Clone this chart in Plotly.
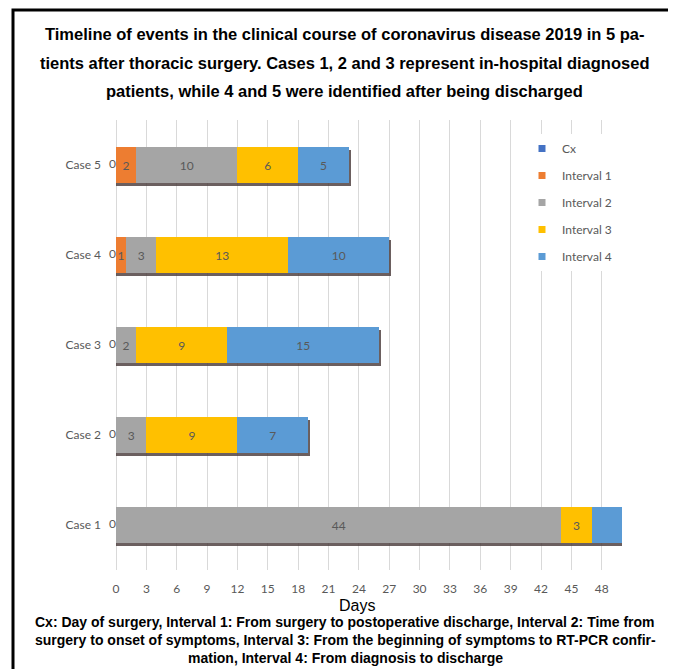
import plotly.graph_objects as go

cases = ["Case 1", "Case 2", "Case 3", "Case 4", "Case 5"]
cx = [0, 0, 0, 0, 0]
interval1 = [0, 0, 0, 1, 2]
interval2 = [44, 3, 2, 3, 10]
interval3 = [3, 9, 9, 13, 6]
interval4 = [3, 7, 15, 10, 5]
# whether the value label is printed on the bar segment
show_int4_label = [False, True, True, True, True]

series_names = ["Cx", "Interval 1", "Interval 2", "Interval 3", "Interval 4"]
colors = ["#4472C4", "#ED7D31", "#A5A5A5", "#FFC000", "#5B9BD5"]

title_lines = [
    "Timeline of events in the clinical course of coronavirus disease 2019 in 5 pa-",
    "tients after thoracic surgery. Cases 1, 2 and 3 represent in-hospital diagnosed",
    "patients, while 4 and 5 were identified after being discharged",
]
note_lines = [
    "Cx: Day of surgery, Interval 1: From surgery to postoperative discharge, Interval 2: Time from",
    "surgery to onset of symptoms, Interval 3: From the beginning of symptoms to RT-PCR confir-",
    "mation, Interval 4: From diagnosis to discharge",
]

OFF = 8  # page body margin
W, H = 676 - OFF, 669 - OFF
PL, PR, PT, PB = 116, 622, 120, 570  # plot area in page pixels
L, R, T, B = PL - OFF, 676 - PR, PT - OFF, 669 - PB
pw, ph = PR - PL, PB - PT


def px_x(p):
    return (p - PL) / pw


def px_y(p):
    return (PB - p) / ph


label_font = dict(family="Lato, Carlito, sans-serif", size=12, color="#595959")

fig = go.Figure()

# bar shadows (on the primary y axis, drawn beneath)
totals = [a + b + c + d + e for a, b, c, d, e in zip(cx, interval1, interval2, interval3, interval4)]
fig.add_trace(go.Bar(
    y=cases, x=[t + 0.2 for t in totals], base=0, orientation="h",
    width=0.4, offset=-0.23, marker=dict(color="rgba(70,55,55,0.8)", line=dict(width=0)),
    showlegend=False, hoverinfo="skip", yaxis="y", xaxis="x",
))

data = [cx, interval1, interval2, interval3, interval4]
for i, (name, vals, col) in enumerate(zip(series_names, data, colors)):
    if i == 0:
        texts = ["" for _ in vals]
    elif i == 4:
        texts = [str(v) if s else "" for v, s in zip(vals, show_int4_label)]
    else:
        texts = [str(v) if v else "" for v in vals]
    fig.add_trace(go.Bar(
        y=cases, x=vals, name=name, orientation="h", width=0.4,
        marker=dict(color=col, line=dict(width=0)),
        text=texts, textposition="inside", insidetextanchor="middle",
        constraintext="none", textfont=label_font, insidetextfont=label_font,
        showlegend=False, yaxis="y2", xaxis="x",
    ))

# Cx labels at day of surgery
fig.add_trace(go.Scatter(
    y=cases, x=cx, mode="text", text=[str(v) for v in cx],
    textposition="middle left", textfont=label_font,
    showlegend=False, hoverinfo="skip", yaxis="y2", xaxis="x", cliponaxis=False,
))

# legend entries
for name, col in zip(series_names, colors):
    fig.add_trace(go.Scatter(
        x=[None], y=[None], mode="markers", name=name, legendgroup=name,
        marker=dict(symbol="square", size=7, color=col), yaxis="y2", xaxis="x",
    ))

annotations = []
for k, line in enumerate(title_lines):
    annotations.append(dict(
        text=line, xref="paper", yref="paper", x=px_x(344), y=px_y(34 + k * 28.5),
        xanchor="center", yanchor="middle", showarrow=False,
        font=dict(family="Liberation Sans, Arial, sans-serif", size=16.5, color="#000000", weight="bold"),
    ))
for k, line in enumerate(note_lines):
    annotations.append(dict(
        text=line, xref="paper", yref="paper", x=px_x(345), y=px_y(622 + k * 18),
        xanchor="center", yanchor="middle", showarrow=False,
        font=dict(family="Liberation Sans, Arial, sans-serif", size=14, color="#000000", weight="bold"),
    ))
annotations.append(dict(
    text="Days", xref="paper", yref="paper", x=px_x(357), y=px_y(605),
    xanchor="center", yanchor="middle", showarrow=False,
    font=dict(family="Liberation Sans, Arial, sans-serif", size=16, color="#000000"),
))

fig.update_layout(
    width=W, height=H,
    margin=dict(l=L, r=R, t=T, b=B, pad=0),
    paper_bgcolor="white", plot_bgcolor="white",
    barmode="stack",
    xaxis=dict(range=[0, 50], dtick=3, tick0=0, showgrid=True, gridcolor="#D9D9D9", gridwidth=1,
               zeroline=True, zerolinecolor="#D9D9D9", zerolinewidth=1, showline=False,
               ticks="", tickfont=label_font, ticklabelstandoff=10, fixedrange=True),
    yaxis=dict(type="category", categoryorder="array", categoryarray=cases, range=[-0.5, 4.5],
               showgrid=False, zeroline=False, showline=False, ticks="",
               tickfont=label_font, ticklabelstandoff=14),
    yaxis2=dict(type="category", categoryorder="array", categoryarray=cases, range=[-0.5, 4.5],
                overlaying="y", visible=False),
    legend=dict(x=px_x(522), y=px_y(134), xanchor="left", yanchor="top",
                bgcolor="white", borderwidth=0, font=dict(family="Lato, Carlito, sans-serif", size=12, color="#595959"),
                traceorder="grouped", tracegroupgap=8, itemwidth=30),
    annotations=annotations,
    shapes=[dict(type="rect", xref="paper", yref="paper",
                 x0=px_x(13), x1=px_x(674), y0=px_y(700), y1=px_y(10),
                 line=dict(color="black", width=3), fillcolor="rgba(0,0,0,0)", layer="above")],
    showlegend=True,
)

fig.write_html("out.html")
